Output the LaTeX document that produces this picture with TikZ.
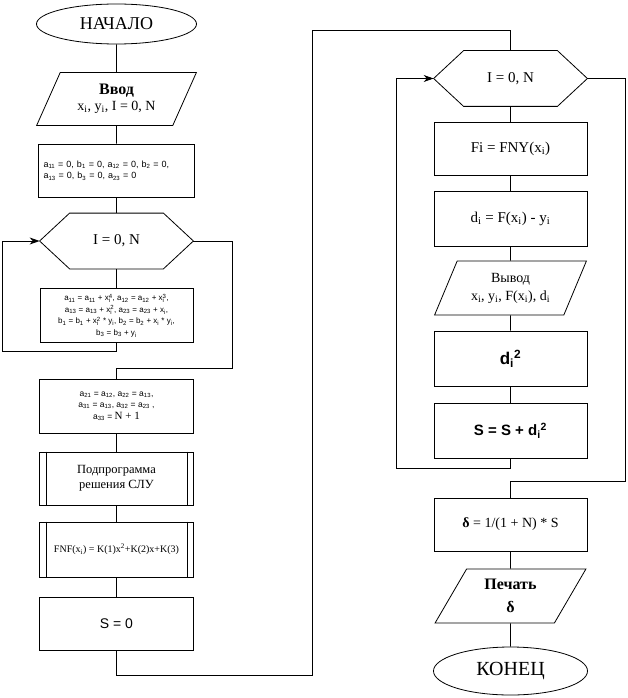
\documentclass[tikz,border=0pt]{standalone}
\usepackage{fontspec}
\setmainfont{Liberation Serif}
\setsansfont{Liberation Sans}
\usetikzlibrary{positioning,calc,shapes.geometric,arrows.meta}
\newcommand\ixsup[1]{x\rlap{\textsubscript{i}}\textsuperscript{#1}}

\begin{document}
\begin{tikzpicture}[x=1pt,y=-1pt,line width=0.8pt,
   blk/.style={draw,rectangle,inner sep=0pt,minimum width=#1,minimum height=54pt,align=center},
   blk/.default=153pt,
   io/.style={draw,trapezium,trapezium left angle=61,trapezium right angle=119,trapezium stretches=true,
     minimum width=152pt,minimum height=54pt,inner sep=0pt,align=center},
   term/.style={draw,ellipse,inner sep=0pt,minimum width=#1,minimum height=40pt},
   hexa/.style={inner sep=0pt,minimum width=93pt,minimum height=55pt,font=\fontsize{15}{17}\selectfont},
   sm/.style={font=\sffamily\fontsize{#1}{11.5}\selectfont},
   sm/.default=8,
   arr/.style={-{Stealth[length=10pt,width=7pt]}}]
 \useasboundingbox (0,0) rectangle (627,698);
 % left column
 \node[term=160pt,font=\fontsize{18}{20}\selectfont] (beg) at (116.5,24) {НАЧАЛО};
 \node[io,minimum width=160pt,minimum height=53pt] (inp) at (116.5,99)
   {{\fontsize{16}{18}\selectfont\bfseries Ввод}\\[3pt] \fontsize{14}{16}\selectfont x\textsubscript{i}, y\textsubscript{i}, I = 0, N};
 \node[blk=156pt,text width=146pt,align=left,sm=9,minimum height=53pt] (ini) at (116.5,170.5)
   {a\textsubscript{11} = 0, b\textsubscript{1} = 0, a\textsubscript{12} = 0, b\textsubscript{2} = 0,\\
    a\textsubscript{13} = 0, b\textsubscript{3} = 0, a\textsubscript{23} = 0};
 \node[hexa] (c1) at (116.5,241) {I = 0, N};
 \node[blk,sm] (sum) at (116.5,315.5)
   {a\textsubscript{11} = a\textsubscript{11} + \ixsup{4}, a\textsubscript{12} = a\textsubscript{12} + \ixsup{3},\\
    a\textsubscript{13} = a\textsubscript{13} + \ixsup{2}, a\textsubscript{23} = a\textsubscript{23} + x\textsubscript{i},\\
    b\textsubscript{1} = b\textsubscript{1} + \ixsup{2} * y\textsubscript{i}, b\textsubscript{2} = b\textsubscript{2} + x\textsubscript{i} * y\textsubscript{i},\\
    b\textsubscript{3} = b\textsubscript{3} + y\textsubscript{i}};
 \node[blk=154pt,sm=8.5] (koef) at (116.5,406)
   {a\textsubscript{21} = a\textsubscript{12}, a\textsubscript{22} = a\textsubscript{13},\\
    a\textsubscript{31} = a\textsubscript{13}, a\textsubscript{32} = a\textsubscript{23} ,\\
    a\textsubscript{33} = {\rmfamily\fontsize{11}{12}\selectfont N + 1}};
 \node[blk=154pt,minimum height=53pt,font=\fontsize{12.5}{15}\selectfont] (slu) at (116.5,478.5)
   {Подпрограмма\\решения СЛУ};
 \node[blk=154pt,minimum height=55pt,font=\fontsize{10}{12}\selectfont] (fnf) at (116.5,549.5)
   {FNF(x\textsubscript{i}) = K(1)x\textsuperscript{2}+K(2)x+K(3)};
 \node[blk=154pt,minimum height=53pt,font=\sffamily\fontsize{14}{16}\selectfont] (s0) at (116.5,623.5) {S = 0};
 % right column
 \node[hexa] (c2) at (510.5,78.5) {I = 0, N};
 \node[blk,minimum height=53pt,font=\fontsize{15}{17}\selectfont] (fi) at (510.5,148.5)
   {Fi = FNY(x\textsubscript{i})};
 \node[blk,minimum height=55pt,font=\fontsize{15}{17}\selectfont] (di) at (510.5,218.5)
   {d\textsubscript{i} = F(x\textsubscript{i}) - y\textsubscript{i}};
 \node[io,font=\fontsize{14}{16}\selectfont] (vyv) at (510.5,288)
   {Вывод\\[2pt]x\textsubscript{i}, y\textsubscript{i}, F(x\textsubscript{i}), d\textsubscript{i}};
 \node[blk,minimum height=55pt,font=\sffamily\bfseries\fontsize{17}{19}\selectfont] (dsq) at (510.5,358.5)
   {d\textsubscript{i}\textsuperscript{2}};
 \node[blk,minimum height=55pt,font=\sffamily\bfseries\fontsize{15}{17}\selectfont] (ssum) at (510.5,430.5)
   {S = S + d\textsubscript{i}\textsuperscript{2}};
 \node[blk,minimum height=53pt,font=\fontsize{14}{16}\selectfont] (delt) at (510.5,524.5)
   {\textbf{δ} = 1/(1 + N) * S};
 \node[io,font=\bfseries\fontsize{16}{20}\selectfont] (pech) at (510.5,596) {Печать\\[3pt]δ};
 \node[term=154pt,minimum height=48pt,font=\fontsize{20}{22}\selectfont] (kon) at (510.5,671) {КОНЕЦ};
 % hexagons and subroutine bars
 \foreach \h in {c1,c2}
 {\coordinate (\h-w) at ([xshift=-30pt]\h.west);
  \coordinate (\h-e) at ([xshift=30pt]\h.east);
  \draw (\h.north west) -- (\h.north east) -- (\h-e) -- (\h.south east) -- (\h.south west) -- (\h-w) -- cycle;}
 \foreach \s in {slu,fnf}
 {\draw ([xshift=7pt]\s.north west) -- ([xshift=7pt]\s.south west);
  \draw ([xshift=-7pt]\s.north east) -- ([xshift=-7pt]\s.south east);}
 % connectors
 \foreach \a/\b in {beg/inp,inp/ini,ini/c1,c1/sum,koef/slu,slu/fnf,fnf/s0,
   c2/fi,fi/di,di/vyv,vyv/dsq,dsq/ssum,delt/pech,pech/kon}
  \draw (\a.south) -- (\b.north);
 \coordinate (l1) at (2,351);
 \coordinate (r1) at (232,368);
 \coordinate (b1) at (312,675);
 \coordinate (t1) at (312,30);
 \coordinate (l2) at (396,468);
 \coordinate (r2) at (625,481);
 \draw[arr] (sum.south) |- (l1) |- (c1-w);
 \draw (c1-e) -| (r1) -| (koef.north);
 \draw (s0.south) |- (b1) |- (t1) -| (c2.north);
 \draw[arr] (ssum.south) |- (l2) |- (c2-w);
 \draw (c2-e) -| (r2) -| (delt.north);
\end{tikzpicture}
\end{document}
